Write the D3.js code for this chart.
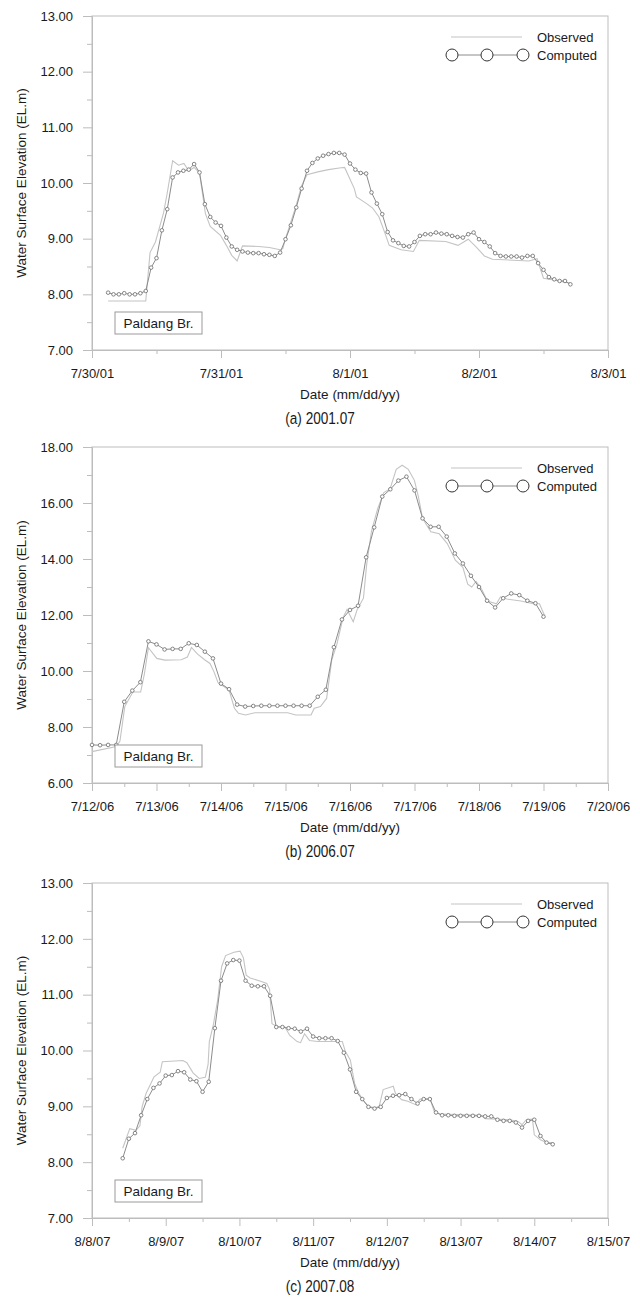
<!DOCTYPE html>
<html><head><meta charset="utf-8">
<script src="https://cdn.jsdelivr.net/npm/d3@7"></script>
<style>
body{margin:0;background:#fff}
svg{display:block}
text{font-family:'Liberation Sans',Arial,sans-serif;fill:#1a1a1a}
</style>
</head><body>
<svg id="c" width="640" height="1297"></svg>
<script>
// ---------- Panel (a) 2001.07 ----------
const aCaption = "(a)  2001.07";
const aXTicks = ["2001-07-30","2001-07-31","2001-08-01","2001-08-02","2001-08-03"];
const aYTicks = [7,8,9,10,11,12,13];
const aCompStart = "2001-07-30T03:00";   // hourly values
const aCompStepH = 1;
const aComputed = [8.03,8.00,8.00,8.02,8.00,8.00,8.02,8.06,8.48,8.65,9.15,9.53,10.10,10.19,10.22,10.24,10.34,10.19,9.62,9.39,9.29,9.23,9.02,8.86,8.80,8.77,8.75,8.74,8.74,8.72,8.71,8.69,8.75,8.99,9.24,9.56,9.90,10.22,10.36,10.44,10.49,10.52,10.54,10.54,10.51,10.35,10.24,10.18,10.17,9.83,9.63,9.44,9.12,8.97,8.92,8.87,8.86,8.94,9.05,9.08,9.08,9.11,9.09,9.08,9.05,9.03,9.02,9.08,9.11,8.99,8.94,8.86,8.74,8.69,8.68,8.68,8.68,8.66,8.69,8.69,8.56,8.44,8.31,8.27,8.24,8.24,8.18];
const aObsHours = [3,10,10.8,11.8,13.3,14,15,16.1,17.1,18,19,20,21.1,22,23.9,25,26,27,28,31,33,35,35.5,36,37,38,39,40,42,44,46,47,48.8,49.2,51.1,52.2,53.4,54.5,55.3,57.5,59.8,60.9,65.8,68.1,70,71.5,73,74.5,81.3,82.8,84,85.9,88.9];
const aObserved = [7.88,7.88,8.75,8.94,9.46,9.82,10.40,10.32,10.35,10.22,10.28,10.18,9.45,9.22,9.06,8.88,8.70,8.60,8.87,8.86,8.84,8.80,8.82,9.00,9.30,9.60,9.95,10.15,10.20,10.24,10.27,10.28,9.90,9.75,9.63,9.55,9.39,9.10,8.88,8.80,8.77,8.97,8.95,8.88,8.99,8.85,8.69,8.63,8.60,8.64,8.29,8.26,8.20];

// ---------- Panel (b) 2006.07 ----------
const bCaption = "(b)  2006.07";
const bXTicks = ["2006-07-12","2006-07-13","2006-07-14","2006-07-15","2006-07-16","2006-07-17","2006-07-18","2006-07-19","2006-07-20"];
const bYTicks = [6,8,10,12,14,16,18];
const bCompStart = "2006-07-12T00:00";   // 3-hourly values
const bCompStepH = 3;
const bComputed = [7.36,7.35,7.36,7.36,8.90,9.30,9.60,11.06,10.95,10.77,10.79,10.79,10.99,10.93,10.69,10.45,9.55,9.35,8.80,8.73,8.75,8.76,8.76,8.76,8.76,8.76,8.76,8.76,9.08,9.33,10.85,11.84,12.18,12.33,14.06,15.13,16.23,16.49,16.80,16.94,16.45,15.45,15.15,15.15,14.80,14.20,13.84,13.40,13.00,12.51,12.27,12.60,12.77,12.71,12.51,12.42,11.94];
const bObsHours = [0,9.1,10.4,12.2,15.2,18.1,19.5,21,24.1,27.1,33.2,35.5,37,39.3,41.9,43.9,45.4,46.9,49.2,51,53,54.5,57.1,60.6,72.8,75.8,81.5,82.7,85,87.3,89.2,91.1,93.4,94.9,97.2,98.7,101,102.2,104,106.3,108.6,110.9,113.2,115.4,117.7,120,121.5,123,124.6,126.1,129.2,132.2,135.2,138,139.8,141.3,142.9,145.1,147.1,150.5,152,154.3,159.6,164.2,166.5,168.3];
const bObserved = [7.12,7.30,7.50,8.73,9.25,9.25,9.90,10.83,10.45,10.39,10.40,10.50,10.84,10.60,10.40,10.27,9.97,9.58,9.44,9.32,8.67,8.49,8.43,8.51,8.51,8.43,8.43,8.67,8.73,9.02,10.39,10.95,11.90,12.20,11.76,12.20,12.60,13.80,15.00,15.80,16.37,16.50,17.20,17.35,17.20,16.80,16.20,15.45,15.20,14.97,14.90,14.55,13.96,13.70,13.10,13.00,13.20,12.90,12.50,12.40,12.65,12.57,12.50,12.40,12.40,12.00];

// ---------- Panel (c) 2007.08 ----------
const cCaption = "(c)  2007.08";
const cXTicks = ["2007-08-08","2007-08-09","2007-08-10","2007-08-11","2007-08-12","2007-08-13","2007-08-14","2007-08-15"];
const cYTicks = [7,8,9,10,11,12,13];
const cCompStart = "2007-08-08T10:00";   // 2-hourly values
const cCompStepH = 2;
const cComputed = [8.07,8.42,8.52,8.84,9.13,9.33,9.41,9.55,9.56,9.63,9.61,9.48,9.45,9.26,9.44,10.40,11.25,11.56,11.62,11.61,11.25,11.16,11.15,11.15,10.98,10.42,10.42,10.40,10.39,10.34,10.39,10.25,10.22,10.22,10.22,10.17,9.96,9.66,9.26,9.13,8.99,8.96,8.99,9.15,9.19,9.20,9.22,9.13,9.05,9.13,9.13,8.89,8.84,8.84,8.83,8.83,8.83,8.83,8.83,8.82,8.82,8.76,8.74,8.74,8.71,8.62,8.74,8.76,8.47,8.35,8.32];
const cObsHours = [10,12.3,14.3,15.6,16.3,17.6,20.2,22.2,22.9,29.6,30.9,32.9,34.9,36.9,37.8,38.2,39.5,40.9,42.2,43.5,46.2,48.2,49.3,50.2,51.5,54.9,56.9,57.8,58.6,60.2,62.8,64.4,66.8,67.9,69.2,70.8,73.5,81.5,82.5,84.1,85.5,86.8,88.8,90.1,92.1,93.5,94.8,98.1,98.8,100.8,102.8,105.4,106.8,110.1,111.4,113.4,126.7,128.1,136,138.7,140,141.4,143.4,144,146,148,150];
const cObserved = [8.25,8.60,8.57,8.65,8.99,9.23,9.53,9.61,9.80,9.82,9.78,9.60,9.50,9.52,9.75,10.16,10.46,10.90,11.50,11.70,11.76,11.78,11.66,11.35,11.30,11.24,11.20,11.10,10.48,10.43,10.42,10.27,10.16,10.14,10.30,10.18,10.16,10.16,9.98,9.83,9.41,9.24,9.07,9.00,8.97,9.00,9.30,9.36,9.23,9.12,9.09,9.03,9.13,9.13,8.91,8.86,8.84,8.78,8.76,8.73,8.67,8.76,8.77,8.49,8.40,8.35,8.35];

// ---------- drawing ----------
const svg = d3.select("#c");
const L = 92, R = 608;
const axisCol = "#bdbdbd";
const obsCol = "#c4c4c4";
const compCol = "#8c8c8c";
const HOUR = 3600e3;
const parse = s => new Date(s + (s.length > 10 ? ":00Z" : "T00:00:00Z"));
const fmtDate = d3.utcFormat("%-m/%-d/%y");

const panels = [
  {top:16, bottom:350, caption:aCaption, xt:aXTicks, yt:aYTicks, ymin:0.5, start:aCompStart, step:aCompStepH, comp:aComputed, oh:aObsHours, ov:aObserved},
  {top:447, bottom:783, caption:bCaption, xt:bXTicks, yt:bYTicks, ymin:1, start:bCompStart, step:bCompStepH, comp:bComputed, oh:bObsHours, ov:bObserved},
  {top:883, bottom:1218, caption:cCaption, xt:cXTicks, yt:cYTicks, ymin:0.5, start:cCompStart, step:cCompStepH, comp:cComputed, oh:cObsHours, ov:cObserved}
];

panels.forEach(p => {
  const xTickDates = p.xt.map(parse);
  const x = d3.scaleUtc().domain([xTickDates[0], xTickDates[xTickDates.length-1]]).range([L, R]);
  const y = d3.scaleLinear().domain([p.yt[0], p.yt[p.yt.length-1]]).range([p.bottom, p.top]);
  const g = svg.append("g");
  const day0 = xTickDates[0].getTime();
  const halfDays = d3.range(0, xTickDates.length - 1).map(i => new Date(xTickDates[i].getTime() + 12*HOUR));
  const yMinor = d3.range(p.yt[0] + p.ymin, p.yt[p.yt.length-1], p.ymin * 2);

  g.append("rect").attr("x", L).attr("y", p.top).attr("width", R - L).attr("height", p.bottom - p.top)
    .attr("fill", "none").attr("stroke", axisCol).attr("stroke-width", 1);

  const styleAx = sel => {
    sel.select(".domain").attr("stroke", axisCol);
    sel.selectAll(".tick line").attr("stroke", axisCol);
    sel.selectAll(".tick text").attr("font-size", 13).style("font-family", "'Liberation Sans',Arial,sans-serif").attr("fill", "#1a1a1a");
  };
  g.append("g").attr("transform", `translate(${L},0)`)
    .call(d3.axisLeft(y).tickValues(p.yt).tickFormat(d3.format(".2f")).tickSize(9).tickPadding(10).tickSizeOuter(0))
    .call(styleAx);
  g.append("g").attr("transform", `translate(${L},0)`)
    .call(d3.axisLeft(y).tickValues(yMinor).tickFormat("").tickSize(5).tickSizeOuter(0))
    .call(styleAx);
  g.append("g").attr("transform", `translate(0,${p.bottom})`)
    .call(d3.axisBottom(x).tickValues(xTickDates).tickFormat(fmtDate).tickSize(8).tickPadding(11).tickSizeOuter(0))
    .call(styleAx);
  g.append("g").attr("transform", `translate(0,${p.bottom})`)
    .call(d3.axisBottom(x).tickValues(halfDays).tickFormat("").tickSize(4).tickSizeOuter(0))
    .call(styleAx);

  const obsPts = p.oh.map((h, i) => [new Date(day0 + h*HOUR), p.ov[i]]);
  g.append("path").datum(obsPts)
    .attr("fill", "none").attr("stroke", obsCol).attr("stroke-width", 1.1)
    .attr("d", d3.line().x(d => x(d[0])).y(d => y(d[1])));

  const cs = parse(p.start).getTime();
  const compPts = p.comp.map((v, i) => [new Date(cs + i*p.step*HOUR), v]);
  g.append("path").datum(compPts)
    .attr("fill", "none").attr("stroke", compCol).attr("stroke-width", 1)
    .attr("d", d3.line().x(d => x(d[0])).y(d => y(d[1])));
  g.selectAll("circle.m").data(compPts).join("circle").attr("class", "m")
    .attr("cx", d => x(d[0])).attr("cy", d => y(d[1])).attr("r", 1.8)
    .attr("fill", "#fff").attr("stroke", "#777").attr("stroke-width", 0.9);

  const ly1 = p.top + 21, ly2 = p.top + 39;
  g.append("line").attr("x1", R - 157).attr("x2", R - 86).attr("y1", ly1).attr("y2", ly1)
    .attr("stroke", obsCol).attr("stroke-width", 1.1);
  g.append("text").attr("x", R - 71).attr("y", ly1 + 4.5).attr("font-size", 13).text("Observed");
  const lc = [R - 156, R - 121, R - 85];
  g.append("line").attr("x1", lc[0]).attr("x2", lc[2]).attr("y1", ly2).attr("y2", ly2)
    .attr("stroke", compCol).attr("stroke-width", 1);
  g.selectAll("circle.lg").data(lc).join("circle").attr("class", "lg")
    .attr("cx", d => d).attr("cy", ly2).attr("r", 6)
    .attr("fill", "#fff").attr("stroke", "#333").attr("stroke-width", 1);
  g.append("text").attr("x", R - 71).attr("y", ly2 + 4.5).attr("font-size", 13).text("Computed");

  g.append("rect").attr("x", 115).attr("y", p.bottom - 38).attr("width", 87).attr("height", 22)
    .attr("fill", "#fff").attr("stroke", "#9a9a9a").attr("stroke-width", 1);
  g.append("text").attr("x", 158.5).attr("y", p.bottom - 22).attr("text-anchor", "middle")
    .attr("font-size", 13.5).text("Paldang Br.");

  g.append("text").attr("x", (L + R) / 2).attr("y", p.bottom + 49).attr("text-anchor", "middle")
    .attr("font-size", 13.5).text("Date (mm/dd/yy)");
  g.append("text").attr("transform", `translate(26,${(p.top + p.bottom) / 2}) rotate(-90)`)
    .attr("text-anchor", "middle").attr("font-size", 13.5).text("Water Surface Elevation (EL.m)");

  // caption (condensed look)
  g.append("text").attr("transform", `translate(320,${p.bottom + 74}) scale(0.8,1)`)
    .attr("text-anchor", "middle").attr("font-size", 17).text(p.caption);
});
</script>
</body></html>
